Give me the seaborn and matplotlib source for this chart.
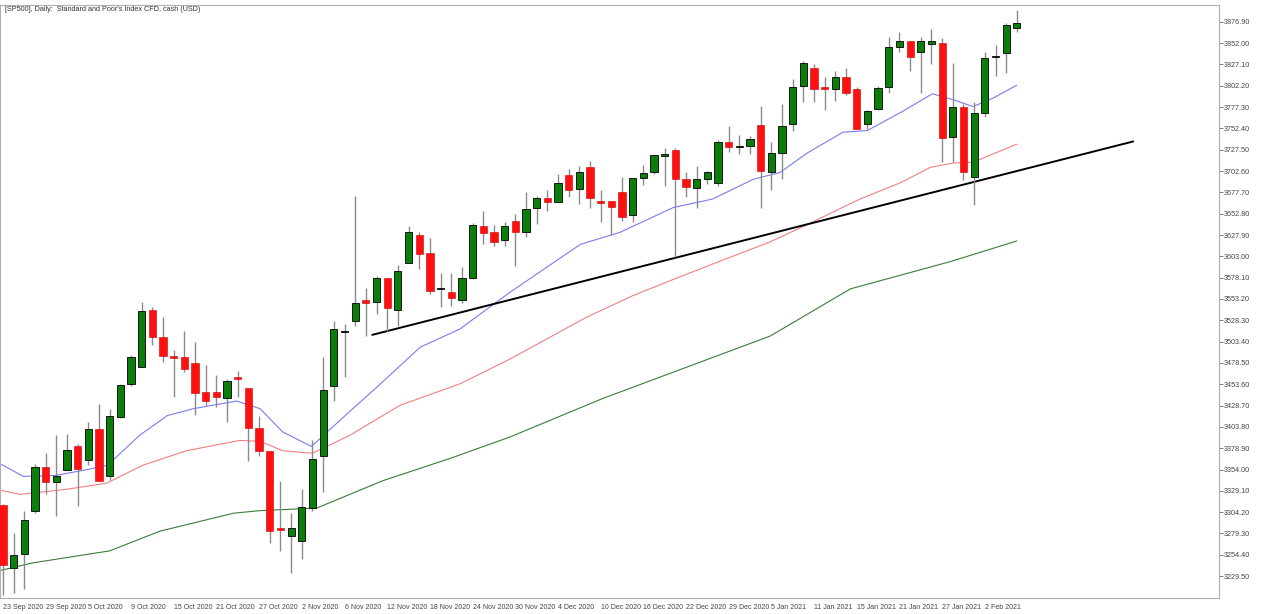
import numpy as np
import pandas as pd
import matplotlib
matplotlib.use("Agg")
import matplotlib.pyplot as plt
import seaborn as sns

# ---- candle data ----
opens = [3312, 3239, 3255, 3305, 3357, 3339, 3354, 3382, 3365, 3401, 3346, 3415, 3454, 3474, 3540, 3509,
         3487, 3486, 3478, 3444, 3444, 3437, 3462, 3449, 3403, 3376, 3286, 3276, 3270, 3309, 3370, 3452,
         3515, 3528, 3552, 3550, 3578, 3540, 3595, 3628, 3607, 3565, 3561, 3552, 3578, 3638, 3632, 3622,
         3644, 3631, 3660, 3671, 3667, 3698, 3682, 3707, 3668, 3668, 3678, 3651, 3695, 3701, 3720, 3727,
         3693, 3683, 3693, 3689, 3737, 3731, 3732, 3757, 3702, 3724, 3758, 3802, 3823, 3801, 3799, 3813,
         3798, 3758, 3775, 3801, 3847, 3854, 3842, 3851, 3852, 3742, 3777, 3696, 3770, 3836, 3840, 3870]
closes = [3242, 3254, 3295, 3357, 3340, 3347, 3377, 3355, 3401, 3341, 3417, 3453, 3486, 3539, 3509, 3487,
          3484, 3472, 3443, 3434, 3439, 3457, 3460, 3402, 3376, 3282, 3283, 3286, 3310, 3366, 3447, 3518,
          3515, 3549, 3549, 3578, 3543, 3586, 3631, 3606, 3562, 3565, 3554, 3578, 3640, 3630, 3620, 3638,
          3632, 3658, 3671, 3667, 3689, 3681, 3702, 3671, 3665, 3661, 3649, 3694, 3700, 3721, 3722, 3693,
          3684, 3693, 3701, 3736, 3731, 3731, 3740, 3703, 3724, 3755, 3801, 3829, 3798, 3798, 3812, 3794,
          3752, 3773, 3800, 3847, 3854, 3836, 3854, 3854, 3741, 3777, 3702, 3770, 3835, 3837, 3873, 3876]
highs = [3314, 3280, 3306, 3361, 3373, 3394, 3396, 3384, 3409, 3430, 3425, 3454, 3488, 3550, 3544, 3532,
         3494, 3516, 3503, 3476, 3465, 3460, 3469, 3449, 3417, 3376, 3341, 3303, 3331, 3388, 3486, 3528,
         3524, 3673, 3566, 3580, 3578, 3593, 3638, 3632, 3625, 3584, 3584, 3590, 3642, 3656, 3640, 3643,
         3653, 3678, 3673, 3681, 3699, 3705, 3708, 3714, 3680, 3668, 3696, 3695, 3710, 3722, 3730, 3729,
         3702, 3709, 3703, 3739, 3755, 3745, 3743, 3779, 3736, 3781, 3810, 3831, 3828, 3813, 3820, 3823,
         3801, 3774, 3802, 3859, 3865, 3854, 3859, 3869, 3858, 3829, 3781, 3783, 3842, 3850, 3875, 3891]
lows = [3207, 3210, 3215, 3303, 3326, 3300, 3353, 3311, 3359, 3341, 3342, 3414, 3452, 3474, 3500, 3480,
        3439, 3468, 3418, 3428, 3427, 3410, 3439, 3364, 3370, 3268, 3259, 3233, 3250, 3306, 3328, 3434,
        3462, 3522, 3510, 3536, 3516, 3522, 3595, 3588, 3559, 3544, 3545, 3548, 3576, 3617, 3615, 3615,
        3592, 3626, 3641, 3656, 3666, 3672, 3664, 3659, 3643, 3628, 3644, 3643, 3686, 3699, 3685, 3602,
        3672, 3660, 3687, 3685, 3725, 3723, 3722, 3659, 3681, 3693, 3749, 3783, 3783, 3774, 3784, 3791,
        3752, 3752, 3774, 3794, 3842, 3820, 3794, 3828, 3713, 3713, 3692, 3663, 3766, 3814, 3817, 3865]

# ---- moving averages (candle index, price) ----
blue_x = [-0.3, 1.9, 4.9, 7.9, 9.8, 12.8, 15.4, 17.8, 21.9, 24.1, 26.2, 28.9, 32.5, 35.1, 39.1, 42.8,
          47.5, 54.1, 57.8, 62.8, 66.5, 70.3, 72.8, 75.4, 78.7, 81.0, 84.1, 87.1, 89.0, 90.9, 92.8, 95.0]
blue_y = [3361, 3346, 3347, 3354, 3359, 3394, 3417, 3425, 3434, 3425, 3398, 3381, 3422, 3451, 3497, 3518,
          3561, 3617, 3631, 3660, 3670, 3693, 3701, 3724, 3748, 3750, 3771, 3793, 3786, 3778, 3788, 3803]
red_x = [-0.3, 1.6, 6.0, 9.7, 13.1, 17.2, 22.2, 24.1, 26.2, 29.0, 32.5, 37.2, 42.8, 47.5, 54.7, 59.0,
         62.8, 66.9, 71.9, 75.0, 80.3, 84.1, 86.9, 89.0, 90.9, 95.0]
red_y = [3330, 3325, 3331, 3338, 3359, 3376, 3388, 3387, 3376, 3373, 3394, 3429, 3454, 3483, 3532, 3557,
         3576, 3596, 3620, 3638, 3670, 3689, 3707, 3712, 3713, 3734]
green_x = [-0.3, 2.8, 10.0, 14.7, 21.6, 24.1, 29.4, 35.6, 41.9, 47.5, 56.2, 71.9, 79.4, 88.8, 95.0]
green_y = [3236, 3245, 3259, 3282, 3303, 3306, 3309, 3341, 3367, 3392, 3437, 3510, 3565, 3597, 3621]

# trend line
trend_x = [34.6, 105.9]
trend_y = [3511.3, 3737.2]

date_labels = ['23 Sep 2020', '29 Sep 2020', '5 Oct 2020', '9 Oct 2020', '15 Oct 2020', '21 Oct 2020',
               '27 Oct 2020', '2 Nov 2020', '6 Nov 2020', '12 Nov 2020', '18 Nov 2020', '24 Nov 2020',
               '30 Nov 2020', '4 Dec 2020', '10 Dec 2020', '16 Dec 2020', '22 Dec 2020', '29 Dec 2020',
               '5 Jan 2021', '11 Jan 2021', '15 Jan 2021', '21 Jan 2021', '27 Jan 2021', '2 Feb 2021']
price_ticks = [3229.5 + 24.9 * k for k in range(27)]

sns.set_style("white")
plt.rcParams['font.family'] = ['Liberation Sans', 'DejaVu Sans']

fig = plt.figure(figsize=(12.8, 6.14), dpi=100)
ax = fig.add_axes([0.0, 0.026, 0.952, 0.966])

# MAs via seaborn
for xs, ys, col in [(green_x, green_y, '#3a7d3a'), (red_x, red_y, '#f08080'), (blue_x, blue_y, '#7b7bf0')]:
    sns.lineplot(x=xs, y=ys, color=col, linewidth=0.8, ax=ax, sort=False)

ax.plot(trend_x, trend_y, color='black', linewidth=1.4)

df = pd.DataFrame({'o': opens, 'c': closes, 'h': highs, 'l': lows})
idx = np.arange(len(df))
up = df['c'] >= df['o']
ax.vlines(idx, df['l'], df['h'], color='#8a8a8a', linewidth=1.0, zorder=3)
body_lo = np.minimum(df['o'], df['c'])
body_h = np.maximum(np.abs(df['c'] - df['o']), 1.2)
ax.bar(idx[up], body_h[up], bottom=body_lo[up], width=0.68, color='#0a7d0a',
       edgecolor='black', linewidth=0.6, zorder=4)
ax.bar(idx[~up], body_h[~up], bottom=body_lo[~up], width=0.68, color='#ff1010',
       edgecolor='#cc0000', linewidth=0.4, zorder=4)

ax.set_xlim(-0.28, 113.9)
ax.set_ylim(3203.9, 3896.7)

ax.yaxis.tick_right()
ax.set_yticks(price_ticks)
ax.set_yticklabels([f'{v:.2f}' for v in price_ticks], fontsize=5.2, color='#444444')
ax.set_xticks(np.arange(0, 4 * len(date_labels), 4))
ax.set_xticklabels(date_labels, fontsize=5.0, color='#444444', ha='left')
ax.tick_params(axis='both', length=3, width=0.6, color='#666666', pad=1)
for lab in ax.get_xticklabels():
    lab.set_x(lab.get_position()[0])
for s in ax.spines.values():
    s.set_color('#b0b0b0')
    s.set_linewidth(0.8)

fig.text(0.004, 0.985, '[SP500], Daily:  Standard and Poor\'s Index CFD, cash (USD)',
         fontsize=5.2, color='#333333', va='center')

fig.savefig('out.png', dpi=100)
